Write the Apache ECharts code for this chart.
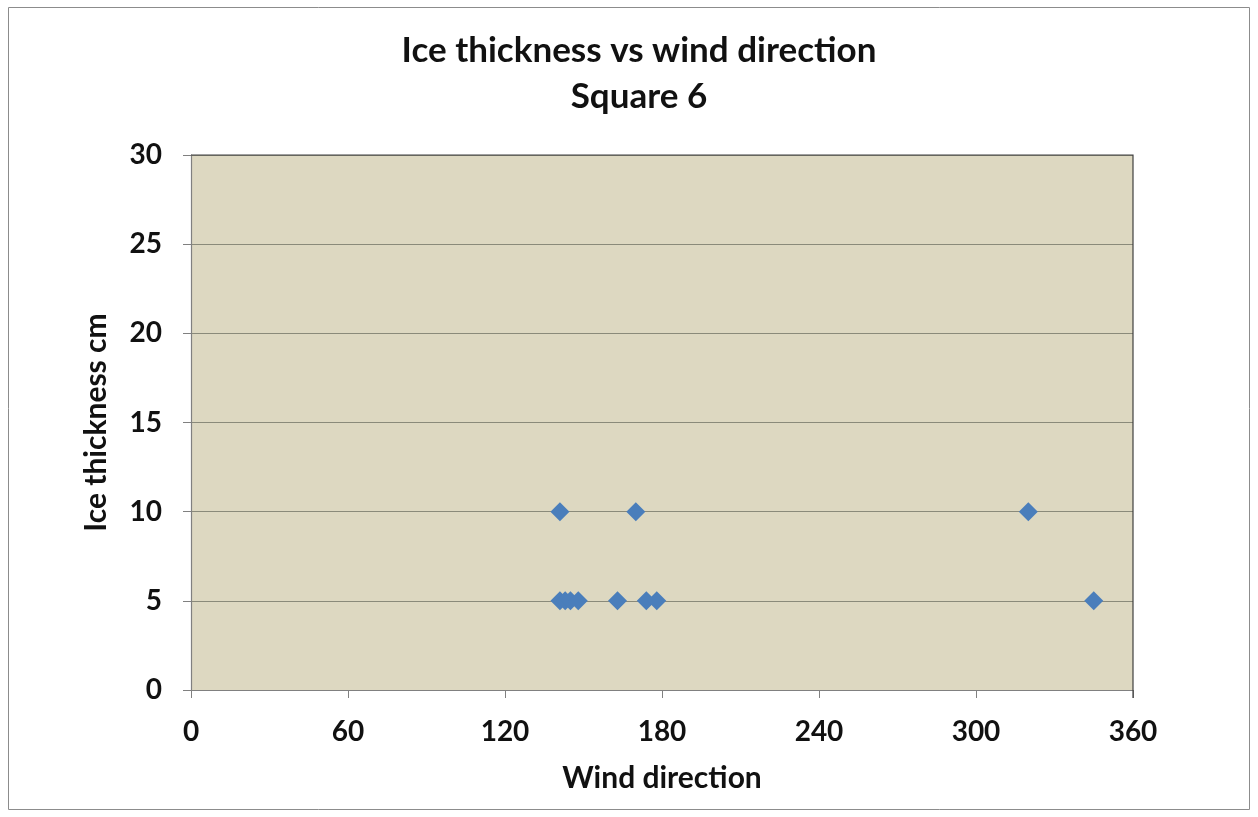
<!DOCTYPE html>
<html>
<head>
<meta charset="utf-8">
<script src="https://cdn.jsdelivr.net/npm/echarts@6/dist/echarts.min.js"></script>
<style>
  html, body { margin: 0; padding: 0; background: #ffffff; }
  #chart { width: 1258px; height: 817px; }
</style>
</head>
<body>
<div id="chart"></div>
<script>
// Wind direction (degrees) and measured ice thickness (cm) for Square 6
const windDirection = [141, 143, 145, 148, 163, 174, 178, 345, 141, 170, 320];
const iceThickness  = [5, 5, 5, 5, 5, 5, 5, 5, 10, 10, 10];
const xTicks = [0, 60, 120, 180, 240, 300, 360];
const yTicks = [0, 5, 10, 15, 20, 25, 30];

const points = windDirection.map((d, i) => [d, iceThickness[i]]);
const fontFamily = 'Lato, "Open Sans", sans-serif';

const outerFrame = {
  type: 'rect',
  shape: { x: 8.5, y: 7.5, width: 1241, height: 802 },
  style: { fill: 'none', stroke: '#8c8c8c', lineWidth: 1 },
  silent: true, z: -1
};

const chart = echarts.init(document.getElementById('chart'), null, { renderer: 'canvas' });
chart.setOption({
  backgroundColor: '#ffffff',
  animation: false,
  title: {
    text: 'Ice thickness vs wind direction\nSquare 6',
    left: 634,
    textAlign: 'center',
    top: 23,
    textStyle: { fontFamily, fontWeight: 'bold', fontSize: 35, color: '#111', lineHeight: 46 }
  },
  graphic: [outerFrame],
  grid: {
    left: 191, right: 125, top: 155, bottom: 127,
    show: true, backgroundColor: '#ddd8c1', borderWidth: 0
  },
  xAxis: {
    type: 'value',
    min: xTicks[0], max: xTicks[xTicks.length - 1], interval: 60,
    name: 'Wind direction', nameLocation: 'middle', nameGap: 73,
    nameTextStyle: { fontFamily, fontWeight: 'bold', fontSize: 30, color: '#111' },
    axisLine: { show: true, onZero: false, lineStyle: { color: '#808080', width: 1.2 } },
    axisTick: { show: true, length: 8, lineStyle: { color: '#808080' } },
    axisLabel: { fontFamily, fontWeight: 'bold', fontSize: 28, color: '#111', margin: 28 },
    splitLine: { show: false }
  },
  yAxis: {
    type: 'value',
    min: yTicks[0], max: yTicks[yTicks.length - 1], interval: 5,
    name: 'Ice thickness cm', nameLocation: 'middle', nameGap: 80, nameRotate: 90,
    nameTextStyle: { fontFamily, fontWeight: 'bold', fontSize: 30, color: '#111' },
    axisLine: { show: true, onZero: false, lineStyle: { color: '#808080', width: 1.2 } },
    axisTick: { show: true, length: 8, lineStyle: { color: '#808080' } },
    axisLabel: { fontFamily, fontWeight: 'bold', fontSize: 28, color: '#111', margin: 29 },
    splitLine: { show: true, lineStyle: { color: '#8a8a7a', width: 1.2 } }
  },
  series: [{
    type: 'scatter',
    data: points,
    symbol: 'diamond',
    symbolSize: [19, 19],
    itemStyle: { color: '#4a7ebb', opacity: 1 }
  }]
});

// Close the plot frame on the top and right sides
const cornerMax = chart.convertToPixel({ gridIndex: 0 }, [xTicks[xTicks.length - 1], yTicks[yTicks.length - 1]]);
const cornerMin = chart.convertToPixel({ gridIndex: 0 }, [xTicks[0], yTicks[0]]);
chart.setOption({
  graphic: [outerFrame, {
    type: 'polyline',
    shape: { points: [[cornerMin[0], cornerMax[1]], [cornerMax[0], cornerMax[1]], [cornerMax[0], cornerMin[1] + 8]] },
    style: { fill: 'none', stroke: '#404040', lineWidth: 1.2 },
    silent: true, z: 5
  }]
});
</script>
</body>
</html>
